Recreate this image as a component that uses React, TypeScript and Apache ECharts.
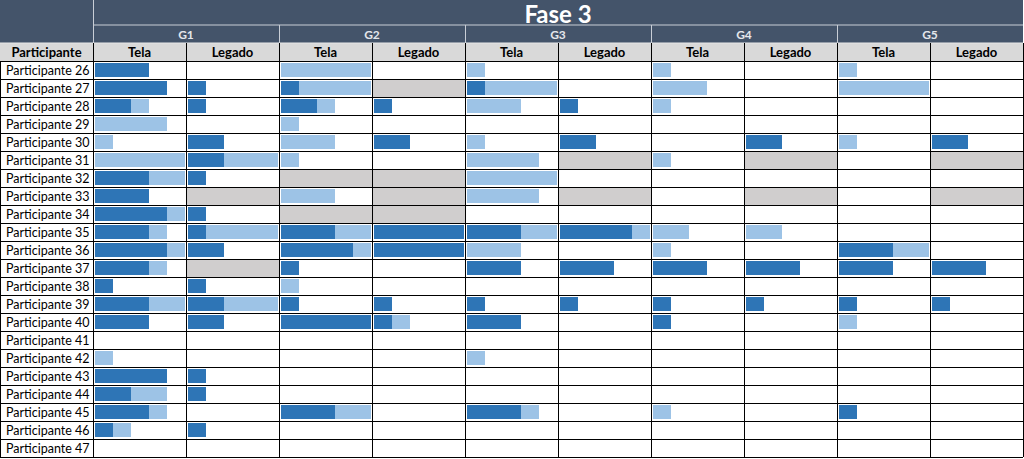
import { useEffect, useRef } from "react";
import * as echarts from "echarts";

const title = "Fase 3";
const groups = ["G1", "G2", "G3", "G4", "G5"];
const subHeaders = ["Tela", "Legado"];
const firstHeader = "Participante";

const participants = [
  "Participante 26", "Participante 27", "Participante 28", "Participante 29",
  "Participante 30", "Participante 31", "Participante 32", "Participante 33",
  "Participante 34", "Participante 35", "Participante 36", "Participante 37",
  "Participante 38", "Participante 39", "Participante 40", "Participante 41",
  "Participante 42", "Participante 43", "Participante 44", "Participante 45",
  "Participante 46", "Participante 47",
];

// dark = solid part, light = additional light part stacked after it
const g1TelaDark = [3, 4, 2, 0, 0, 0, 3, 3, 4, 3, 4, 3, 1, 3, 3, 0, 0, 4, 2, 3, 1, 0];
const g1TelaLight = [0, 0, 1, 4, 1, 5, 2, 0, 1, 1, 1, 1, 0, 2, 0, 0, 1, 0, 2, 1, 1, 0];
const g1LegadoDark = [0, 1, 1, 0, 2, 2, 1, 0, 1, 1, 2, 0, 1, 2, 2, 0, 0, 1, 1, 0, 1, 0];
const g1LegadoLight = [0, 0, 0, 0, 0, 3, 0, 0, 0, 4, 0, 0, 0, 3, 0, 0, 0, 0, 0, 0, 0, 0];
const g2TelaDark = [0, 1, 2, 0, 0, 0, 0, 0, 0, 3, 4, 1, 0, 1, 5, 0, 0, 0, 0, 3, 0, 0];
const g2TelaLight = [5, 4, 1, 1, 3, 1, 0, 3, 0, 2, 1, 0, 1, 0, 0, 0, 0, 0, 0, 2, 0, 0];
const g2LegadoDark = [0, 0, 1, 0, 2, 0, 0, 0, 0, 5, 5, 0, 0, 1, 1, 0, 0, 0, 0, 0, 0, 0];
const g2LegadoLight = [0, 0, 0, 0, 0, 0, 0, 0, 0, 0, 0, 0, 0, 0, 1, 0, 0, 0, 0, 0, 0, 0];
const g3TelaDark = [0, 1, 0, 0, 0, 0, 0, 0, 0, 3, 0, 3, 0, 1, 3, 0, 0, 0, 0, 3, 0, 0];
const g3TelaLight = [1, 4, 3, 0, 1, 4, 5, 4, 0, 2, 3, 0, 0, 0, 0, 0, 1, 0, 0, 1, 0, 0];
const g3LegadoDark = [0, 0, 1, 0, 2, 0, 0, 0, 0, 4, 0, 3, 0, 1, 0, 0, 0, 0, 0, 0, 0, 0];
const g3LegadoLight = [0, 0, 0, 0, 0, 0, 0, 0, 0, 1, 0, 0, 0, 0, 0, 0, 0, 0, 0, 0, 0, 0];
const g4TelaDark = [0, 0, 0, 0, 0, 0, 0, 0, 0, 0, 0, 3, 0, 1, 1, 0, 0, 0, 0, 0, 0, 0];
const g4TelaLight = [1, 3, 1, 0, 0, 1, 0, 0, 0, 2, 1, 0, 0, 0, 0, 0, 0, 0, 0, 1, 0, 0];
const g4LegadoDark = [0, 0, 0, 0, 2, 0, 0, 0, 0, 0, 0, 3, 0, 1, 0, 0, 0, 0, 0, 0, 0, 0];
const g4LegadoLight = [0, 0, 0, 0, 0, 0, 0, 0, 0, 2, 0, 0, 0, 0, 0, 0, 0, 0, 0, 0, 0, 0];
const g5TelaDark = [0, 0, 0, 0, 0, 0, 0, 0, 0, 0, 3, 3, 0, 1, 0, 0, 0, 0, 0, 1, 0, 0];
const g5TelaLight = [1, 5, 0, 0, 1, 0, 0, 0, 0, 0, 2, 0, 0, 0, 1, 0, 0, 0, 0, 0, 0, 0];
const g5LegadoDark = [0, 0, 0, 0, 2, 0, 0, 0, 0, 0, 0, 3, 0, 1, 0, 0, 0, 0, 0, 0, 0, 0];
const g5LegadoLight = [0, 0, 0, 0, 0, 0, 0, 0, 0, 0, 0, 0, 0, 0, 0, 0, 0, 0, 0, 0, 0, 0];

// cells marked as not applicable (grey)
const naCells: [string, string][] = [
  ["G1 Legado", "Participante 33"], ["G1 Legado", "Participante 37"],
  ["G2 Tela", "Participante 32"], ["G2 Tela", "Participante 34"],
  ["G2 Legado", "Participante 27"], ["G2 Legado", "Participante 32"],
  ["G2 Legado", "Participante 33"], ["G2 Legado", "Participante 34"],
  ["G3 Legado", "Participante 31"], ["G3 Legado", "Participante 33"],
  ["G4 Legado", "Participante 31"], ["G4 Legado", "Participante 33"],
  ["G5 Legado", "Participante 31"], ["G5 Legado", "Participante 33"],
];

const columns = [
  { key: "G1 Tela", dark: g1TelaDark, light: g1TelaLight },
  { key: "G1 Legado", dark: g1LegadoDark, light: g1LegadoLight },
  { key: "G2 Tela", dark: g2TelaDark, light: g2TelaLight },
  { key: "G2 Legado", dark: g2LegadoDark, light: g2LegadoLight },
  { key: "G3 Tela", dark: g3TelaDark, light: g3TelaLight },
  { key: "G3 Legado", dark: g3LegadoDark, light: g3LegadoLight },
  { key: "G4 Tela", dark: g4TelaDark, light: g4TelaLight },
  { key: "G4 Legado", dark: g4LegadoDark, light: g4LegadoLight },
  { key: "G5 Tela", dark: g5TelaDark, light: g5TelaLight },
  { key: "G5 Legado", dark: g5LegadoDark, light: g5LegadoLight },
];

const DARK = "#2E75B6";
const LIGHT = "#9DC3E6";
const NA = "#D0CECE";
const HEAD = "#44546A";
const SUBHEAD = "#D9D9D9";
const FONT = "Lato, 'Open Sans', sans-serif";

const FIRST_W = 93;
const CELL_W = 93;
const TOP = 61;
const ROW_H = 18;
const UNIT = 18;

function buildOption() {
  const n = participants.length;
  const grids: any[] = [];
  const xAxes: any[] = [];
  const yAxes: any[] = [];
  const series: any[] = [];

  columns.forEach((col, i) => {
    const left = FIRST_W + CELL_W * i + 1;
    const width = CELL_W - 1;
    grids.push({ left, top: TOP, width, height: ROW_H * n });
    xAxes.push({ type: "value", gridIndex: i, min: -1 / UNIT, max: (width - 1) / UNIT, show: false });
    yAxes.push({ type: "category", gridIndex: i, data: participants, inverse: true, show: false });
    series.push({
      type: "custom",
      xAxisIndex: i,
      yAxisIndex: i,
      silent: true,
      encode: { x: 0, y: 1 },
      data: naCells.filter((c) => c[0] === col.key).map((c) => [0, c[1]]),
      renderItem: (params: any, api: any) => {
        const c = api.coord([0, api.value(1)]);
        const h = api.size([0, 1])[1];
        const cs = params.coordSys;
        return {
          type: "rect",
          shape: { x: cs.x, y: c[1] - h / 2, width: cs.width, height: h },
          style: { fill: NA },
        };
      },
    });
    series.push({
      type: "bar", xAxisIndex: i, yAxisIndex: i, stack: "s" + i, barWidth: 14,
      data: col.dark, itemStyle: { color: DARK }, silent: true,
    });
    series.push({
      type: "bar", xAxisIndex: i, yAxisIndex: i, stack: "s" + i, barWidth: 14,
      data: col.light, itemStyle: { color: LIGHT }, silent: true,
    });
  });

  // background grid: row/column lines and participant labels
  const bg = columns.length;
  grids.push({ left: 0, top: TOP, width: FIRST_W + CELL_W * columns.length, height: ROW_H * n });
  xAxes.push({
    type: "value", gridIndex: bg, min: 0, max: columns.length + 1, interval: 1,
    axisLine: { show: false }, axisTick: { show: false }, axisLabel: { show: false },
    splitLine: { show: true, lineStyle: { color: "#000", width: 1 } }, z: 5,
  });
  yAxes.push({
    type: "category", gridIndex: bg, data: participants, inverse: true,
    axisLine: { show: false }, axisTick: { show: false },
    axisLabel: { inside: true, align: "left", margin: 6, fontFamily: FONT, fontSize: 12.5, color: "#000" },
    splitLine: { show: true, interval: 0, lineStyle: { color: "#000", width: 1 } }, z: 5,
  });

  const totalW = FIRST_W + CELL_W * columns.length;
  const graphics: any[] = [
    { type: "rect", shape: { x: 0, y: 0, width: totalW, height: 43 }, style: { fill: HEAD }, z: 1 },
    { type: "rect", shape: { x: 0, y: 43, width: totalW, height: 18 }, style: { fill: SUBHEAD }, z: 1 },
    { type: "line", shape: { x1: FIRST_W, y1: 25, x2: totalW, y2: 25 }, style: { stroke: "#C9CED6", lineWidth: 1 }, z: 2 },
    { type: "line", shape: { x1: FIRST_W + 0.5, y1: 0, x2: FIRST_W + 0.5, y2: 43 }, style: { stroke: "#C9CED6", lineWidth: 1 }, z: 2 },
    { type: "line", shape: { x1: 0, y1: 43, x2: totalW, y2: 43 }, style: { stroke: "#E8E8E8", lineWidth: 1 }, z: 2 },
    {
      type: "text", x: FIRST_W + (CELL_W * columns.length) / 2, y: 13, z: 3,
      style: { text: title, fill: "#fff", font: `bold 24px ${FONT}`, textAlign: "center", textVerticalAlign: "middle" },
    },
    {
      type: "text", x: FIRST_W / 2, y: 52, z: 3,
      style: { text: firstHeader, fill: "#000", font: `bold 13px ${FONT}`, textAlign: "center", textVerticalAlign: "middle" },
    },
  ];
  groups.forEach((g, gi) => {
    const x0 = FIRST_W + CELL_W * 2 * gi;
    if (gi > 0) {
      graphics.push({ type: "line", shape: { x1: x0 + 0.5, y1: 25, x2: x0 + 0.5, y2: 43 }, style: { stroke: "#C9CED6", lineWidth: 1 }, z: 2 });
    }
    graphics.push({
      type: "text", x: x0 + CELL_W, y: 34, z: 3,
      style: { text: g, fill: "#E4E7EC", font: `bold 12px ${FONT}`, textAlign: "center", textVerticalAlign: "middle" },
    });
    subHeaders.forEach((s, si) => {
      const cx = x0 + CELL_W * si;
      graphics.push({
        type: "text", x: cx + CELL_W / 2, y: 52, z: 3,
        style: { text: s, fill: "#000", font: `bold 13px ${FONT}`, textAlign: "center", textVerticalAlign: "middle" },
      });
    });
  });
  for (let k = 1; k <= columns.length + 1; k++) {
    const x = FIRST_W + CELL_W * (k - 1);
    graphics.push({ type: "line", shape: { x1: x + 0.5, y1: 43, x2: x + 0.5, y2: TOP }, style: { stroke: "#000", lineWidth: 1 }, z: 2 });
  }

  return {
    animation: false,
    backgroundColor: "#fff",
    grid: grids,
    xAxis: xAxes,
    yAxis: yAxes,
    series,
    graphic: graphics,
  };
}

export default function App() {
  const ref = useRef<HTMLDivElement>(null);
  useEffect(() => {
    const chart = echarts.init(ref.current!, null, { renderer: "svg" });
    chart.setOption(buildOption());
    return () => chart.dispose();
  }, []);
  return (
    <div
      ref={ref}
      style={{ position: "fixed", left: 0, top: 0, width: 1024, height: 459, background: "#fff" }}
    />
  );
}
